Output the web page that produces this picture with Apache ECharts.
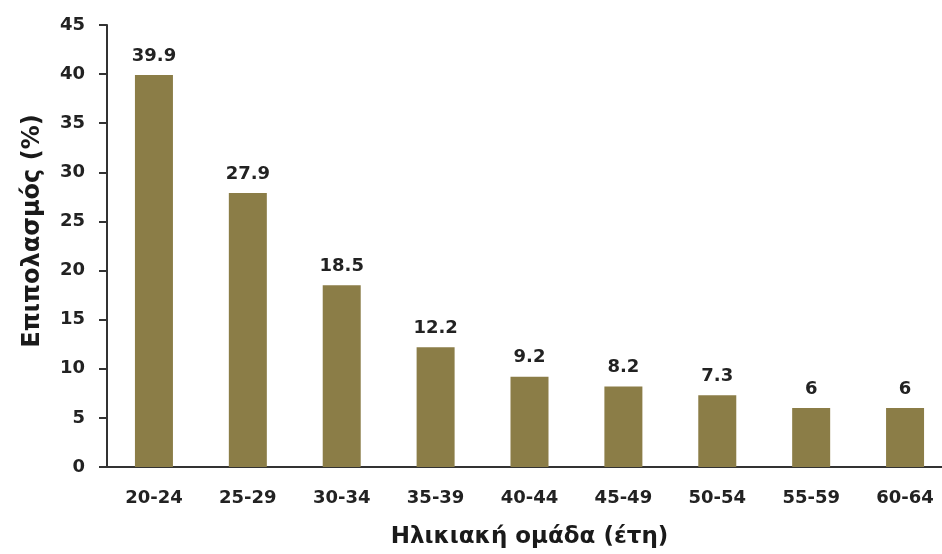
<!DOCTYPE html>
<html>
<head>
<meta charset="utf-8">
<script src="https://cdn.jsdelivr.net/npm/echarts@6/dist/echarts.min.js"></script>
<style>
html,body{margin:0;padding:0;background:#fff;}
#wrap{position:relative;width:942px;height:554px;overflow:hidden;}
#c{position:absolute;left:0;top:0;width:952px;height:554px;}
</style>
</head>
<body>
<div id="wrap"><div id="c"></div></div>
<script>
var categories = ['20-24','25-29','30-34','35-39','40-44','45-49','50-54','55-59','60-64'];
var values = [39.9, 27.9, 18.5, 12.2, 9.2, 8.2, 7.3, 6, 6];
var yTitle = 'Επιπολασμός (%)';
var xTitle = 'Ηλικιακή ομάδα (έτη)';

var chart = echarts.init(document.getElementById('c'), null, {renderer:'canvas'});
var font = 'DejaVu Sans, sans-serif';
chart.setOption({
  backgroundColor: '#ffffff',
  animation: false,
  grid: {left: 107, right: 0, top: 25, bottom: 83, containLabel: false},
  xAxis: {
    type: 'category',
    data: categories,
    name: xTitle,
    nameLocation: 'middle',
    nameGap: 59,
    nameTextStyle: {fontFamily: font, fontWeight: 'bold', fontSize: 23, color: '#1a1a1a'},
    axisLine: {lineStyle: {color: '#333333', width: 2}},
    axisTick: {show: false},
    axisLabel: {fontFamily: font, fontWeight: 'bold', fontSize: 18, color: '#222222', margin: 22},
    splitLine: {show: false}
  },
  yAxis: {
    type: 'value',
    min: 0, max: 45, interval: 5,
    name: yTitle,
    nameLocation: 'middle',
    nameGap: 62,
    nameTextStyle: {fontFamily: font, fontWeight: 'bold', fontSize: 24, color: '#1a1a1a', padding: [0, 0, 0, 30]},
    axisLine: {show: true, lineStyle: {color: '#333333', width: 2}},
    axisTick: {show: true, length: 8, lineStyle: {color: '#333333', width: 2}},
    axisLabel: {fontFamily: font, fontWeight: 'bold', fontSize: 18, color: '#222222', margin: 22},
    splitLine: {show: false}
  },
  series: [{
    type: 'bar',
    data: values,
    barWidth: 38,
    itemStyle: {color: '#8b7d47'},
    label: {
      show: true,
      position: 'top',
      distance: 10,
      fontFamily: font,
      fontWeight: 'bold',
      fontSize: 18,
      color: '#222222'
    }
  }]
});
</script>
</body>
</html>
